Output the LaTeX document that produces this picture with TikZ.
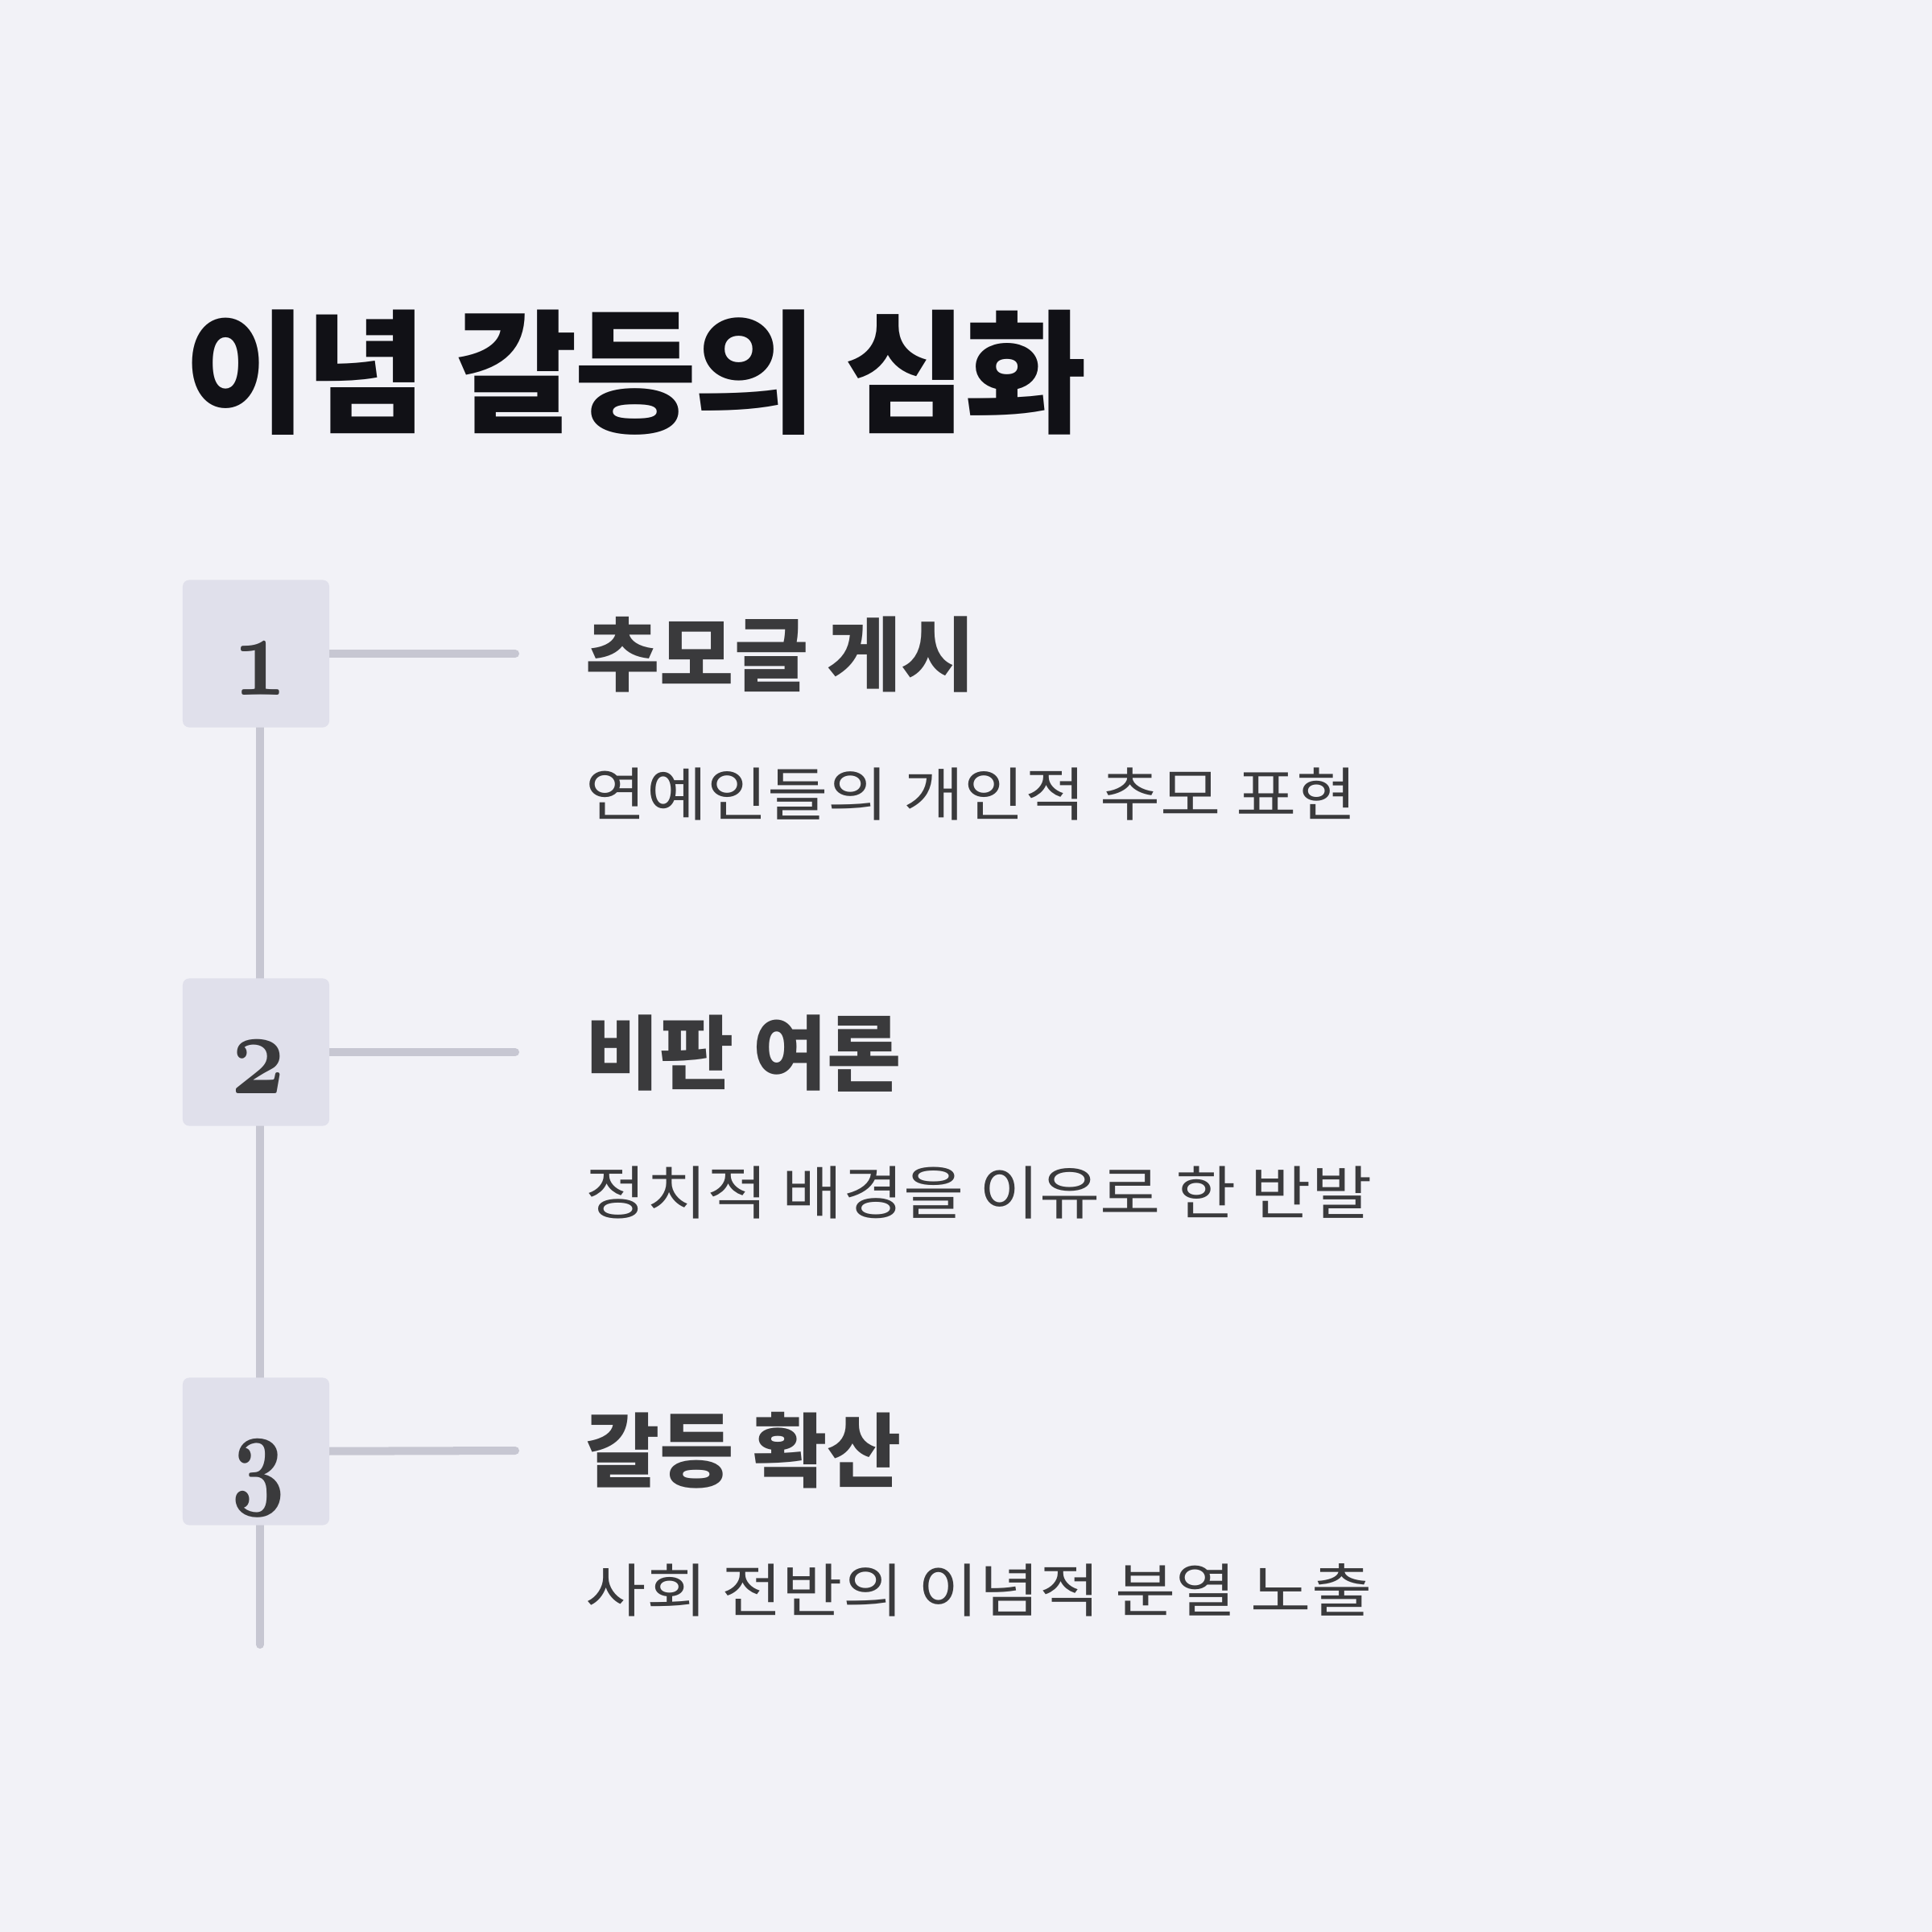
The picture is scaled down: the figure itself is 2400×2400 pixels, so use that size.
\documentclass[tikz,border=0pt]{standalone}
\usepackage{fontspec}
\setmainfont{Noto Sans CJK KR}
\newfontfamily\krfont{Noto Sans CJK KR}
\newfontfamily\krtitle[LetterSpace=-2]{Noto Sans CJK KR}
\definecolor{bgc}{HTML}{F2F2F7}
\definecolor{boxc}{HTML}{E0E0EB}
\definecolor{linec}{HTML}{C7C7D2}
\definecolor{titlec}{HTML}{111116}
\definecolor{textc}{HTML}{3A3A3C}
\pgfdeclarelayer{back}
\pgfsetlayers{back,main}
\tikzset{
  numbox/.style={fill=boxc, draw=none, rounded corners=2.3pt, minimum width=1.82cm, minimum height=1.83cm, inner sep=0pt},
  numtext/.style={text=textc, inner sep=0pt, anchor=base, scale=4.15, xscale=0.8, font=\fontsize{10pt}{12pt}\usefont{OML}{cmm}{b}{it}},
  rail/.style={draw=linec, line width=2.85pt, line cap=round},
  titletext/.style={text=titlec, inner sep=0pt, anchor=west, font=\krtitle\bfseries\fontsize{47pt}{47pt}\selectfont},
  headtext/.style={text=textc, inner sep=0pt, anchor=west, font=\krfont\bfseries\fontsize{28.5pt}{28.5pt}\selectfont},
  subtext/.style={text=textc, inner sep=0pt, anchor=west, xscale=1.135, font=\krfont\fontsize{20.5pt}{20.5pt}\selectfont},
}
\begin{document}
\begin{tikzpicture}[x=0.01cm,y=-0.01cm]
\useasboundingbox (0,0) rectangle (2400,2400);
% boxes
\node[numbox] (b1) at (318,812) {};
\node[numbox] (b2) at (318,1307) {};
\node[numbox] (b3) at (318,1803) {};
\node[numtext] (n1) at (323,863) {1};
\node[numtext] (n2) at (321,1358) {2};
\node[numtext] (n3) at (321,1854) {3};
% background, rail and branches behind the boxes
\coordinate (railtop) at (323,812);
\coordinate (railend) at (323,2043);
\coordinate (e1) at (640,812);
\coordinate (e2) at (640,1307);
\coordinate (e3) at (640,1802);
\begin{pgfonlayer}{back}
\fill[bgc] (0,0) rectangle (2400,2400);
\draw[rail] (railtop) -- (railend);
\draw[rail] (b1.center) -- (e1);
\draw[rail] (b2.center) -- (e2);
\draw[rail] (b3.center) -- (e3);
\end{pgfonlayer}
% title
\node[titletext] (title) at (229,463) {이념 갈등의 심화};
% texts
\node[headtext] (h1) at (727,813) {추모글 게시};
\node[subtext] (s1) at (727,987) {연예인들의 개인적 추모 표현};
\node[headtext] (h2) at (727,1309) {비판 여론};
\node[subtext] (s2) at (727,1482) {정치적 배경을 이유로 한 반발};
\node[headtext] (h3) at (727,1802) {갈등 확산};
\node[subtext] (s3) at (727,1975) {사회 전반의 이념적 분열 노출};
\end{tikzpicture}
\end{document}
